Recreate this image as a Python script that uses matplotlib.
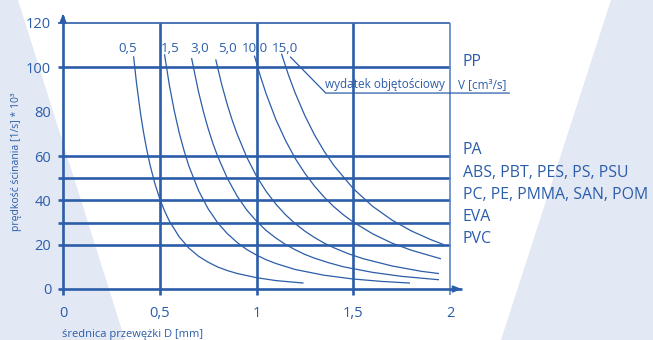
import matplotlib
matplotlib.use("Agg")
import matplotlib.pyplot as plt
from matplotlib.patches import Polygon

plt.rcParams['font.family'] = ['Open Sans', 'DejaVu Sans']

BLUE = "#2b5da8"
LIGHT = "#5b84c2"
BG = "#e3e8f5"

# flow-rate curves: nozzle diameter D [mm] -> shear rate [1/s * 10^3]
flow_labels = ["0,5", "1,5", "3,0", "5,0", "10,0", "15,0"]
label_d = [0.332, 0.554, 0.705, 0.85, 0.99, 1.145]

d_05 = [0.365, 0.38, 0.40, 0.415, 0.43, 0.45, 0.475, 0.50, 0.525, 0.55, 0.60, 0.65, 0.70, 0.75,
        0.80, 0.85, 0.90, 1.00, 1.10, 1.24]
g_05 = [104.7, 92.8, 79.6, 71.3, 64.1, 55.9, 47.5, 40.7, 35.2, 30.6, 23.6, 18.5, 14.8, 12.1,
        9.9, 8.3, 7.0, 5.1, 3.8, 2.7]
d_15 = [0.525, 0.55, 0.575, 0.60, 0.625, 0.65, 0.70, 0.75, 0.80, 0.85, 0.90, 0.95, 1.00, 1.05,
        1.10, 1.20, 1.35, 1.50, 1.65, 1.79]
g_15 = [105.6, 91.8, 80.4, 70.7, 62.6, 55.6, 44.5, 36.2, 29.8, 24.9, 21.0, 17.8, 15.3, 13.2,
        11.5, 8.8, 6.2, 4.5, 3.4, 2.7]
d_30 = [0.665, 0.70, 0.725, 0.75, 0.775, 0.80, 0.85, 0.90, 0.95, 1.00, 1.05, 1.10, 1.15, 1.20,
        1.25, 1.30, 1.375, 1.45, 1.60, 1.75, 1.94]
g_30 = [103.9, 89.1, 80.2, 72.4, 65.6, 59.7, 49.8, 41.9, 35.6, 30.6, 26.4, 23.0, 20.1, 17.7,
        15.6, 13.9, 11.8, 10.0, 7.5, 5.7, 4.2]
d_50 = [0.79, 0.82, 0.85, 0.875, 0.90, 0.95, 1.00, 1.05, 1.10, 1.15, 1.20, 1.25, 1.30, 1.35,
        1.40, 1.475, 1.55, 1.70, 1.85, 1.94]
g_50 = [103.3, 92.3, 82.9, 76.0, 69.9, 59.4, 50.9, 44.0, 38.3, 33.5, 29.5, 26.1, 23.2, 20.7,
        18.6, 15.9, 13.7, 10.4, 8.0, 7.0]
d_100 = [0.99, 1.02, 1.05, 1.10, 1.15, 1.20, 1.25, 1.30, 1.35, 1.40, 1.45, 1.50, 1.60, 1.70,
         1.80, 1.95]
g_100 = [105.0, 96.0, 88.0, 76.5, 67.0, 58.9, 52.2, 46.4, 41.4, 37.1, 33.4, 30.2, 24.9, 20.7,
         17.5, 13.7]
d_150 = [1.13, 1.165, 1.20, 1.25, 1.30, 1.35, 1.40, 1.50, 1.60, 1.70, 1.80, 1.90, 1.965]
g_150 = [105.9, 96.6, 88.4, 78.2, 69.5, 62.1, 55.7, 45.3, 37.3, 31.1, 26.2, 22.3, 20.1]
curves_d = [d_05, d_15, d_30, d_50, d_100, d_150]
curves_g = [g_05, g_15, g_30, g_50, g_100, g_150]

# material levels
materials = ["PP", "PA", "ABS, PBT, PES, PS, PSU", "PC, PE, PMMA, SAN, POM", "EVA", "PVC"]
material_rate = [100, 60, 50, 40, 30, 20]

x_ticks = [0, 0.5, 1, 1.5, 2]
x_ticklabels = ["0", "0,5", "1", "1,5", "2"]
y_ticks = [0, 20, 40, 60, 80, 100, 120]

W, H = 653, 340
fig = plt.figure(figsize=(W / 100, H / 100), dpi=100)
fig.patch.set_facecolor("white")

# background bands
bg = fig.add_axes([0, 0, 1, 1], zorder=-1)
bg.axis("off")
bg.set_xlim(0, W)
bg.set_ylim(H, 0)
bg.add_patch(Polygon([(0, 0), (18, 0), (125, 340), (0, 340)], facecolor=BG, edgecolor="none"))
bg.add_patch(Polygon([(611, 0), (653, 0), (653, 340), (501, 340)], facecolor=BG, edgecolor="none"))

ax = fig.add_axes([63 / W, (H - 289) / H, 387 / W, 266 / H])
ax.set_facecolor("none")
ax.set_xlim(0, 2)
ax.set_ylim(0, 120)
for s in ax.spines.values():
    s.set_visible(False)

ax.set_xticks(x_ticks)
ax.set_xticklabels(x_ticklabels)
ax.set_yticks(y_ticks)
ax.tick_params(axis="both", length=0, colors=BLUE, labelsize=10.5)
ax.tick_params(axis="y", pad=8.5)
ax.tick_params(axis="x", pad=12)

# grid
for v in material_rate:
    ax.plot([-0.027, 2], [v, v], color=BLUE, lw=1.9, clip_on=False, solid_capstyle="butt")
ax.plot([-0.027, 2], [120, 120], color=BLUE, lw=1.2, clip_on=False, solid_capstyle="butt")
for v in [0.5, 1, 1.5]:
    ax.plot([v, v], [-2.7, 120], color=BLUE, lw=1.9, clip_on=False, solid_capstyle="butt")
ax.plot([2, 2], [-2.7, 120], color=LIGHT, lw=1.2, clip_on=False, solid_capstyle="butt")

# axes with arrows
ax.plot([-0.027, 2.06], [0, 0], color=BLUE, lw=1.9, clip_on=False, solid_capstyle="butt")
ax.plot([0, 0], [-2.7, 123], color=BLUE, lw=1.9, clip_on=False, solid_capstyle="butt")
ax.annotate("", xy=(2.075, 0), xytext=(2.03, 0),
            arrowprops=dict(arrowstyle="-|>,head_length=0.5,head_width=0.2", color=BLUE, lw=1.2),
            annotation_clip=False)
ax.annotate("", xy=(0, 125.5), xytext=(0, 121),
            arrowprops=dict(arrowstyle="-|>,head_length=0.5,head_width=0.2", color=BLUE, lw=1.2),
            annotation_clip=False)

# flow curves
for d, g, lab, ld in zip(curves_d, curves_g, flow_labels, label_d):
    ax.plot(d, g, color=BLUE, lw=0.9, clip_on=False)
    ax.text(ld, 108.7, lab, color=BLUE, fontsize=9.6, ha="center", va="center")

# material labels
for m, v in zip(materials, material_rate):
    ax.text(2.066, v + 2.5, m, color=BLUE, fontsize=11.4, ha="left", va="center", clip_on=False)

# volume flow annotation
ax.plot([1.176, 1.358, 2.306], [104.6, 88.4, 88.4], color=BLUE, lw=0.9, clip_on=False)
ax.text(1.975, 92.3, "wydatek objętościowy", color=BLUE, fontsize=8.5, ha="right", va="center")
ax.text(2.041, 92.3, "V [cm³/s]", color=BLUE, fontsize=8.5, ha="left", va="center")

fig.text(62 / W, 1 - 334 / H, "średnica przewężki D [mm]", color=BLUE, fontsize=8,
         ha="left", va="center")
fig.text(17 / W, 1 - 162 / H, "prędkość ścinania [1/s] * 10³", color=BLUE, fontsize=7.5,
         ha="center", va="center", rotation=90)

fig.savefig("out.png", dpi=100)
